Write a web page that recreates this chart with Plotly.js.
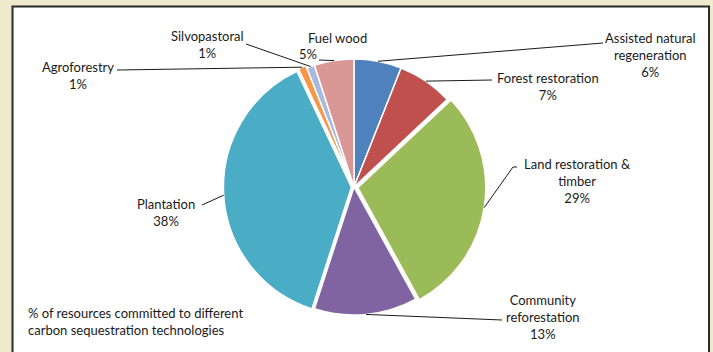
<!DOCTYPE html>
<html>
<head>
<meta charset="utf-8">
<script src="https://cdn.plot.ly/plotly-3.0.1.min.js"></script>
<style>html,body{margin:0;padding:0;background:#EFEACD;}#chart{width:713px;height:352px;}</style>
</head>
<body>
<div id="chart"></div>
<script>
// ---- data ----
const categories = ["Assisted natural regeneration", "Forest restoration", "Land restoration & timber",
  "Community reforestation", "Plantation", "Agroforestry", "Silvopastoral", "Fuel wood"];
const labelTexts = ["Assisted natural<br>regeneration", "Forest restoration", "Land restoration &<br>timber",
  "Community<br>reforestation", "Plantation", "Agroforestry", "Silvopastoral", "Fuel wood"];
const values = [6, 7, 29, 13, 38, 1, 1, 5];
const colors = ["#4F81BD", "#C0504D", "#9BBB59", "#8064A2", "#4BACC6", "#F79646", "#A7B9DE", "#D99795"];
const pulls = [0, 0, 0.03, 0, 0.02, 0.02, 0, 0];
const note = "% of resources committed to different<br>carbon sequestration technologies";

// ---- layout (pixels) ----
const W = 713, H = 352;
const cx = 354, cy = 187, R = 128, maxPull = 0.03;
const half = R * (1 + maxPull);
// label layout: elbow point of leader line and text centre
const labelPos = [
  {elbow: [[603, 43]], tx: 650, ty: 55},
  {elbow: [[492, 80]], tx: 548, ty: 86},
  {elbow: [[513, 167], [517, 167]], tx: 577, ty: 181},
  {elbow: [[502, 320]], tx: 543, ty: 317},
  {elbow: [[202, 205]], tx: 166, ty: 212},
  {elbow: [[117, 70]], tx: 78, ty: 75},
  {elbow: [[246, 44]], tx: 207, ty: 45},
  {elbow: [[319, 60]], tx: 337, ty: 38, pctX: 308, pctY: 54}
];

const px = x => x / W, py = y => 1 - y / H;
const total = values.reduce((a, b) => a + b, 0);
const font = {family: "Lato, 'Open Sans', sans-serif", size: 13, color: "#1a1a1a"};

const shapes = [{
  type: "rect", xref: "paper", yref: "paper", layer: "below",
  x0: px(12.5), x1: px(709), y0: py(370), y1: py(6.5),
  fillcolor: "#FFFFFF", line: {color: "#2b2b2b", width: 2}
}];
const annotations = [];
let cum = 0;
values.forEach((v, i) => {
  const mid = (cum + v / 2) / total * 2 * Math.PI;
  cum += v;
  const r = R * (1 + pulls[i]);
  const ex = cx + r * Math.sin(mid), ey = cy - r * Math.cos(mid);
  const pts = [[ex, ey]].concat(labelPos[i].elbow);
  for (let k = 0; k < pts.length - 1; k++) {
    shapes.push({type: "line", xref: "paper", yref: "paper", layer: "above",
      x0: px(pts[k][0]), y0: py(pts[k][1]), x1: px(pts[k + 1][0]), y1: py(pts[k + 1][1]),
      line: {color: "#1a1a1a", width: 1}});
  }
  const pct = Math.round(v / total * 100) + "%";
  const lp = labelPos[i];
  if (lp.pctX !== undefined) {
    annotations.push({xref: "paper", yref: "paper", x: px(lp.tx), y: py(lp.ty), text: labelTexts[i],
      showarrow: false, xanchor: "center", yanchor: "middle", font: font});
    annotations.push({xref: "paper", yref: "paper", x: px(lp.pctX), y: py(lp.pctY), text: pct,
      showarrow: false, xanchor: "center", yanchor: "middle", font: font});
  } else {
    annotations.push({xref: "paper", yref: "paper", x: px(lp.tx), y: py(lp.ty), text: labelTexts[i] + "<br>" + pct,
      showarrow: false, xanchor: "center", yanchor: "middle", align: "center", font: font});
  }
});
annotations.push({xref: "paper", yref: "paper", x: px(26), y: py(321.5), text: note, showarrow: false,
  xanchor: "left", yanchor: "middle", align: "left", font: font});

const trace = {
  type: "pie", labels: categories, values: values, sort: false, direction: "clockwise", rotation: 0,
  pull: pulls, textinfo: "none", hoverinfo: "label+percent",
  marker: {colors: colors, line: {color: "#FFFFFF", width: 1.5}},
  domain: {x: [px(cx - half), px(cx + half)], y: [py(cy + half), py(cy - half)]},
  showlegend: false
};

Plotly.newPlot("chart", [trace], {
  width: W, height: H, margin: {l: 0, r: 0, t: 0, b: 0},
  paper_bgcolor: "#EFEACD", plot_bgcolor: "#EFEACD",
  shapes: shapes, annotations: annotations, showlegend: false
}, {displayModeBar: false, staticPlot: true});
</script>
</body>
</html>
